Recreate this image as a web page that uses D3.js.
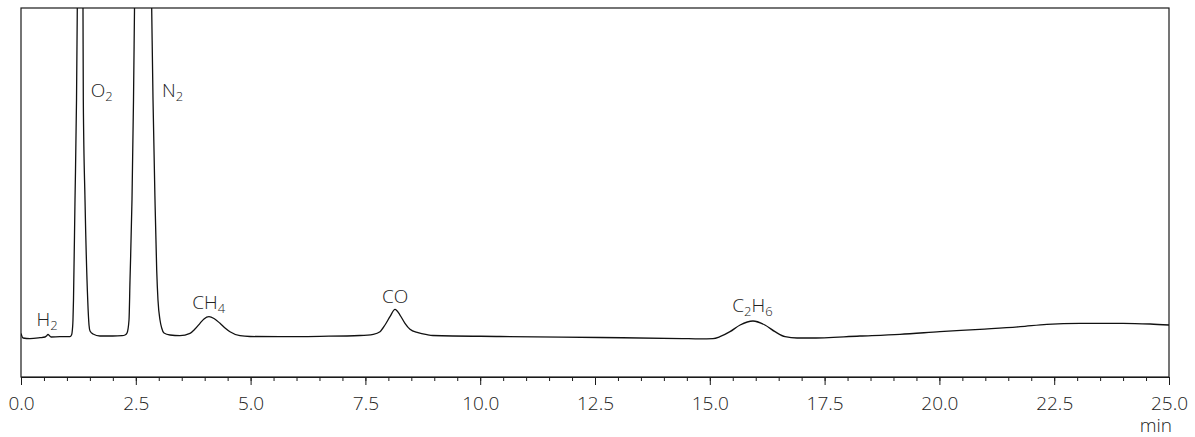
<!DOCTYPE html>
<html>
<head>
<meta charset="utf-8">
<script src="https://cdn.jsdelivr.net/npm/d3@7"></script>
<style>
  html, body { margin: 0; padding: 0; background: #fff; }
  svg { display: block; }
  text { font-family: "Open Sans", "Noto Sans", sans-serif; font-weight: 300; fill: #222; }
</style>
</head>
<body>
<svg id="chart" width="1195" height="437"></svg>
<script>
// ---- data (retention time in min, detector signal in arbitrary units) ----
const time = [
  0.000, 0.044, 0.196, 0.414, 0.523, 0.560, 0.588, 0.620, 0.653, 0.849,
  1.067, 1.100, 1.111, 1.132, 1.143, 1.176, 1.209, 1.226, 1.289, 1.350,
  1.357, 1.394, 1.453, 1.481, 1.503, 1.568, 1.720, 2.000, 2.200, 2.265,
  2.309, 2.352, 2.374, 2.417, 2.450, 2.472, 2.665, 2.846, 2.875, 2.918,
  2.955, 2.983, 3.027, 3.064, 3.114, 3.245, 3.462, 3.680, 3.789, 3.898,
  3.985, 4.094, 4.203, 4.334, 4.443, 4.551, 4.769, 4.987, 5.640, 6.510,
  7.380, 7.672, 7.818, 7.927, 8.035, 8.145, 8.253, 8.362, 8.471, 8.645,
  8.841, 8.970, 10.430, 12.610, 14.400, 14.790, 15.070, 15.220, 15.440, 15.660,
  15.940, 16.200, 16.420, 16.640, 16.900, 17.180, 18.270, 19.140, 20.010, 20.880,
  21.760, 22.340, 23.060, 24.000, 24.590, 25.000
];
const signal = [
  11.80, 10.57, 10.40, 10.65, 10.84, 11.20, 11.57, 11.20, 10.84, 10.92,
  10.92, 11.38, 11.92, 15.45, 20.87, 47.97, 75.07, 100.0, 220.0, 100.0,
  75.07, 47.97, 20.87, 14.09, 12.47, 11.65, 11.11, 11.11, 11.20, 11.38,
  11.92, 15.45, 26.30, 47.97, 75.07, 100.0, 250.0, 100.0, 75.07, 47.97,
  29.00, 20.87, 15.45, 13.28, 11.92, 11.38, 11.20, 11.84, 13.00, 14.55,
  15.72, 16.34, 15.85, 14.55, 13.28, 12.28, 11.19, 10.98, 10.92, 11.03,
  11.25, 11.58, 12.28, 14.09, 16.34, 18.35, 16.80, 14.55, 12.93, 12.00,
  11.46, 11.25, 10.98, 10.70, 10.42, 10.32, 10.40, 10.92, 12.28, 14.09,
  15.18, 14.09, 12.28, 10.92, 10.57, 10.57, 11.11, 11.57, 12.28, 12.93,
  13.63, 14.28, 14.55, 14.55, 14.36, 14.09
];

// peak labels ("_n" = subscript), anchored in data coordinates
const peakLabels = ["H_2", "O_2", "N_2", "CH_4", "CO", "C_2H_6"];
const peakLabelTime = [0.34, 1.52, 3.07, 3.73, 7.86, 15.49];
const peakLabelSignal = [13.9, 76.0, 76.0, 18.35, 20.14, 17.53];

const majorTicks = [0, 2.5, 5, 7.5, 10, 12.5, 15, 17.5, 20, 22.5, 25];
const minorTicks = d3.range(0, 25.0001, 0.5);
const xUnit = "min";

// ---- layout ----
const svg = d3.select("#chart");
const mLeft = 21, mRight = 1169, mTop = 8, mBottom = 377;

const x = d3.scaleLinear().domain([0, 25]).range([mLeft, mRight]);
const y = d3.scaleLinear().domain([0, 100]).range([mBottom, mTop]);

svg.append("defs").append("clipPath").attr("id", "plotClip")
  .append("rect").attr("x", mLeft).attr("y", mTop)
  .attr("width", mRight - mLeft).attr("height", mBottom - mTop);

// frame
svg.append("rect")
  .attr("x", mLeft).attr("y", mTop)
  .attr("width", mRight - mLeft).attr("height", mBottom - mTop)
  .attr("fill", "none").attr("stroke", "#1a1a1a").attr("stroke-width", 1.2);

// minor ticks
const minorAxis = d3.axisBottom(x).tickValues(minorTicks).tickSize(4).tickFormat("");
svg.append("g").attr("transform", `translate(0,${mBottom})`).call(minorAxis)
  .call(g => g.select(".domain").remove())
  .call(g => g.selectAll("line").attr("stroke", "#1a1a1a"));

// major ticks
const majorAxis = d3.axisBottom(x).tickValues(majorTicks).tickSize(8)
  .tickFormat(d3.format(".1f"));
const gx = svg.append("g").attr("transform", `translate(0,${mBottom})`).call(majorAxis);
gx.select(".domain").attr("stroke", "#1a1a1a");
gx.selectAll("line").attr("stroke", "#1a1a1a");
gx.selectAll("text")
  .attr("y", 33).attr("dy", null)
  .attr("font-size", 19)
  .attr("font-family", "'Open Sans', sans-serif")
  .attr("font-weight", 300)
  .attr("fill", "#222");

svg.append("text")
  .attr("x", mRight + 3).attr("y", 432)
  .attr("text-anchor", "end")
  .attr("font-size", 19)
  .text(xUnit);

// trace
const pts = time.map((t, i) => [t, signal[i]]);
const line = d3.line().x(d => x(d[0])).y(d => y(d[1])).curve(d3.curveMonotoneX);
svg.append("path")
  .datum(pts)
  .attr("clip-path", "url(#plotClip)")
  .attr("fill", "none")
  .attr("stroke", "#111")
  .attr("stroke-width", 1.3)
  .attr("stroke-linejoin", "round")
  .attr("d", line);

// peak labels
peakLabels.forEach((lab, i) => {
  const t = svg.append("text")
    .attr("x", x(peakLabelTime[i]))
    .attr("y", y(peakLabelSignal[i]))
    .attr("font-size", 19);
  const parts = lab.split(/(_\d)/).filter(s => s.length);
  let shifted = false;
  parts.forEach(p => {
    if (p.startsWith("_")) {
      t.append("tspan").attr("font-size", 13).attr("dy", 4).text(p.slice(1));
      shifted = true;
    } else {
      const s = t.append("tspan").text(p);
      if (shifted) { s.attr("dy", -4); shifted = false; }
    }
  });
});
</script>
</body>
</html>
